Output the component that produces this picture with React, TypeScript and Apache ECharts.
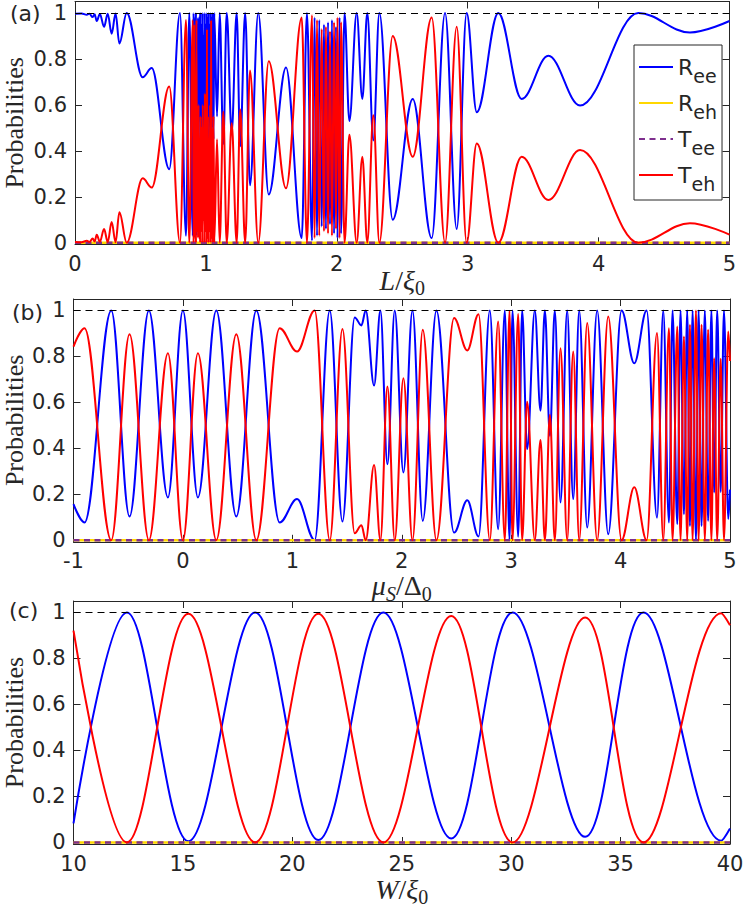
import React, { useEffect, useRef } from "react";
import * as echarts from "echarts";

const BLUE = "#0000ff";
const RED = "#ff0000";
const GOLD = "#ffd700";
const PURPLE = "#7e2f8e";
const INK = "#262626";

// (a) probabilities versus junction length L/ξ0 (turning points of the curves)
const lengthX = [
  0.0, 0.05, 0.09, 0.11, 0.135, 0.15, 0.166, 0.19, 0.222, 0.25, 0.28, 0.31, 0.339, 0.395, 0.517, 0.586, 0.72, 0.802,
  0.848, 0.873, 0.9,
  0.906, 0.911, 0.916, 0.92, 0.924, 0.928, 0.932, 0.936, 0.94, 0.944, 0.948, 0.952, 0.956, 0.96, 0.964, 0.968,
  0.972, 0.976, 0.98, 0.984, 0.988, 0.992, 0.996, 1.0, 1.004, 1.008, 1.012, 1.016, 1.02, 1.024, 1.028, 1.032,
  1.036, 1.04, 1.044, 1.048, 1.052, 1.058, 1.064,
  1.085, 1.105, 1.133, 1.159, 1.197, 1.235, 1.262, 1.3, 1.337, 1.4, 1.48, 1.612, 1.732, 1.772, 1.811, 1.83, 1.849,
  1.866, 1.885, 1.902, 1.917, 1.933, 1.948, 1.963, 1.979, 1.994, 2.005, 2.021, 2.032, 2.059, 2.096, 2.152, 2.195,
  2.233, 2.279, 2.325, 2.427, 2.58, 2.725, 2.827, 2.916, 2.992, 3.069, 3.234, 3.412, 3.616, 3.858, 4.303, 4.698, 5.0,
];
const lengthTeh = [
  0.003, 0.002, 0.008, 0.003, 0.018, 0.005, 0.035, 0.004, 0.06, 0.003, 0.09, 0.002, 0.133, 0.0, 0.28, 0.24, 0.68, 0.0,
  0.97, 0.0, 0.97,
  0.0, 0.95, 0.02, 0.55, 0.0, 0.97, 0.05, 0.5, 0.02, 0.6, 0.02, 0.45, 0.0, 0.55, 0.05, 0.5,
  0.0, 0.6, 0.1, 0.45, 0.0, 0.65, 0.05, 0.5, 0.0, 0.93, 0.02, 0.55, 0.0, 0.45, 0.05, 0.6,
  0.0, 0.97, 0.02, 0.5, 0.0, 0.55, 0.0,
  0.45, 0.0, 0.57, 0.0, 0.52, 0.0, 0.58, 0.0, 0.75, 0.0, 0.79, 0.237, 0.98, 0.0, 0.99, 0.02, 0.97,
  0.03, 0.93, 0.05, 0.94, 0.04, 0.92, 0.03, 0.96, 0.06, 0.98, 0.02, 0.96, 0.0, 0.47, 0.0, 0.374,
  0.0, 0.555, 0.0, 0.9, 0.374, 0.98, 0.0, 0.94, 0.0, 0.432, 0.0, 0.374, 0.186, 0.403, 0.0, 0.085, 0.035,
];
const lengthRee = [
  0.997, 0.998, 0.992, 0.997, 0.982, 0.995, 0.965, 0.996, 0.94, 0.997, 0.91, 0.998, 0.867, 1.0, 0.72, 0.76, 0.32, 1.0,
  0.03, 1.0, 0.03,
  1.0, 0.05, 0.98, 0.45, 1.0, 0.03, 0.95, 0.5, 0.98, 0.4, 0.98, 0.55, 1.0, 0.45, 0.95, 0.5,
  1.0, 0.4, 0.9, 0.55, 1.0, 0.35, 0.95, 0.5, 1.0, 0.07, 0.98, 0.45, 1.0, 0.55, 0.95, 0.4,
  1.0, 0.03, 0.98, 0.5, 1.0, 0.45, 1.0,
  0.55, 1.0, 0.43, 1.0, 0.48, 1.0, 0.42, 1.0, 0.25, 1.0, 0.21, 0.763, 0.02, 1.0, 0.01, 0.98, 0.03,
  0.97, 0.07, 0.95, 0.06, 0.96, 0.08, 0.97, 0.04, 0.94, 0.02, 0.98, 0.04, 1.0, 0.53, 1.0, 0.626,
  1.0, 0.445, 1.0, 0.1, 0.626, 0.02, 1.0, 0.06, 1.0, 0.568, 1.0, 0.626, 0.814, 0.597, 1.0, 0.915, 0.965,
];
const lengthRange = [0, 5];
const lengthReh = [0, 0];
const lengthTee = [0, 0];
const lengthTicks = [0, 1, 2, 3, 4, 5];

// (b) probabilities versus chemical potential μS/Δ0
const muX = [
  -1.0, -0.899, -0.655, -0.488, -0.311, -0.137, 0.0, 0.137, 0.305, 0.488, 0.671, 0.884, 1.043, 1.204, 1.342, 1.458,
  1.57, 1.631, 1.671, 1.747, 1.805, 1.869, 1.936, 2.015, 2.098, 2.192, 2.317, 2.478, 2.599, 2.702, 2.805, 2.881,
  2.942, 2.985, 3.012, 3.064, 3.1, 3.146, 3.216, 3.268, 3.308, 3.354, 3.399, 3.451, 3.512, 3.567, 3.622, 3.695,
  3.786, 3.887, 4.009, 4.125, 4.238, 4.333, 4.39, 4.442, 4.475, 4.518, 4.548, 4.579, 4.609, 4.634, 4.658, 4.689,
  4.713, 4.74, 4.77, 4.8, 4.83, 4.855, 4.883, 4.915, 4.945, 4.984, 5.0,
];
const muTeh = [
  0.843, 0.923, 0.0, 0.897, 0.0, 0.814, 0.0, 0.814, 0.0, 0.897, 0.0, 0.923, 0.821, 1.0, 0.0, 0.919,
  0.03, 0.065, 0.0, 0.327, 0.0, 0.669, 0.0, 0.705, 0.0, 0.916, 0.0, 0.967, 0.826, 0.984, 0.0, 0.952,
  0.0, 0.998, 0.0, 0.985, 0.0, 0.603, 0.0, 0.436, 0.0, 0.545, 0.0, 0.836, 0.0, 0.821, 0.0, 0.945,
  0.0, 0.974, 0.0, 0.23, 0.0, 0.902, 0.0, 0.923, 0.0, 0.93, 0.0, 0.887, 0.0, 0.938, 0.0, 1.0,
  0.0, 0.938, 0.0, 0.916, 0.0, 0.792, 0.0, 0.79, 0.0, 0.908, 0.78,
];
const muRee = [
  0.157, 0.077, 1.0, 0.103, 1.0, 0.186, 1.0, 0.186, 1.0, 0.103, 1.0, 0.077, 0.179, 0.0, 1.0, 0.081,
  0.97, 0.935, 1.0, 0.673, 1.0, 0.331, 1.0, 0.295, 1.0, 0.084, 1.0, 0.033, 0.174, 0.016, 1.0, 0.048,
  1.0, 0.002, 1.0, 0.015, 1.0, 0.397, 1.0, 0.564, 1.0, 0.455, 1.0, 0.164, 1.0, 0.179, 1.0, 0.055,
  1.0, 0.026, 1.0, 0.77, 1.0, 0.098, 1.0, 0.077, 1.0, 0.07, 1.0, 0.113, 1.0, 0.062, 1.0, 0.0,
  1.0, 0.062, 1.0, 0.084, 1.0, 0.208, 1.0, 0.21, 1.0, 0.092, 0.22,
];
const muRange = [-1, 5];
const muReh = [0, 0];
const muTee = [0, 0];
const muTicks = [-1, 0, 1, 2, 3, 4, 5];

// (c) probabilities versus junction width W/ξ0
const widthX = [10, 12.44, 15.25, 18.3, 21.19, 24.16, 27.26, 30.07, 33.38, 36.05, 39.6, 40];
const widthTeh = [0.921, 0.0, 0.994, 0.0, 0.994, 0.0, 0.985, 0.0, 0.978, 0.0, 0.997, 0.945];
const widthRee = [0.083, 1.0, 0.005, 1.0, 0.01, 1.0, 0.017, 1.0, 0.024, 1.0, 0.007, 0.06];
const widthRange = [10, 40];
const widthReh = [0, 0];
const widthTee = [0, 0];
const widthTicks = [10, 15, 20, 25, 30, 35, 40];

const probTicks = [0, 0.2, 0.4, 0.6, 0.8, 1];
const seriesNames = ["Ree", "Reh", "Tee", "Teh"];

const grids = [
  { left: 75, top: 1.5, width: 654.5, height: 242.8, outerBoundsMode: "none", containLabel: false },
  { left: 73.5, top: 299, width: 656.5, height: 242.8, outerBoundsMode: "none", containLabel: false },
  { left: 73.5, top: 601, width: 656.5, height: 243, outerBoundsMode: "none", containLabel: false },
];

// axis titles: symbols sit at the top of a taller line, subscripts hang at its bottom
const mathRich = {
  i: { fontFamily: "Liberation Serif", fontStyle: "italic", fontSize: 28, lineHeight: 32, verticalAlign: "top", color: INK },
  n: { fontFamily: "Liberation Serif", fontSize: 28, lineHeight: 32, verticalAlign: "top", color: INK },
  s: { fontFamily: "Liberation Serif", fontSize: 20, verticalAlign: "bottom", color: INK },
  si: { fontFamily: "Liberation Serif", fontStyle: "italic", fontSize: 20, verticalAlign: "bottom", color: INK },
};

const frameLine = { show: true, onZero: false, lineStyle: { color: INK, width: 1 } };

function xAxes(i: number, range: number[], ticks: number[], name: string, nameGap: number) {
  const common = {
    type: "value",
    gridIndex: i,
    min: range[0],
    max: range[1],
    axisLine: frameLine,
    splitLine: { show: false },
    axisTick: { show: true, inside: true, length: 7, customValues: ticks, lineStyle: { color: INK } },
  };
  return [
    {
      ...common,
      position: "bottom",
      axisLabel: {
        show: true,
        customValues: ticks,
        margin: 9,
        color: INK,
        fontSize: 21,
        lineHeight: 21,
        fontFamily: "DejaVu Sans",
        formatter: (v: number) => String(v),
      },
      name,
      nameLocation: "middle",
      nameGap,
      nameMoveOverlap: false,
      nameTextStyle: { rich: mathRich },
    },
    { ...common, position: "top", axisLabel: { show: false } },
  ];
}

function yAxes(i: number, nameGap: number) {
  const common = {
    type: "value",
    gridIndex: i,
    min: -0.007,
    max: 1.05,
    axisLine: frameLine,
    splitLine: { show: false },
    axisTick: { show: true, inside: true, length: 7, customValues: probTicks, lineStyle: { color: INK } },
  };
  return [
    {
      ...common,
      position: "left",
      axisLabel: {
        show: true,
        customValues: probTicks,
        margin: 8,
        color: INK,
        fontSize: 21,
        fontFamily: "DejaVu Sans",
        formatter: (v: number) => String(Number(v.toFixed(1))),
      },
      name: "Probabilities",
      nameLocation: "middle",
      nameRotate: 90,
      nameGap,
      nameMoveOverlap: false,
      nameTextStyle: { fontFamily: "Liberation Serif", fontSize: 26, color: INK },
    },
    { ...common, position: "right", axisLabel: { show: false } },
  ];
}

function pairs(xs: number[], ys: number[]) {
  return xs.map((x, k) => [x, ys[k]]);
}

function panelSeries(
  i: number,
  xs: number[],
  ree: number[],
  teh: number[],
  range: number[],
  reh: number[],
  tee: number[],
  monotone: boolean
) {
  const base = {
    type: "line",
    xAxisIndex: 2 * i,
    yAxisIndex: 2 * i,
    symbol: "none",
    showSymbol: false,
    silent: true,
    animation: false,
  };
  const curve = monotone ? { smooth: 0.364, smoothMonotone: "x" } : { smooth: 0.364 };
  return [
    { ...base, ...curve, name: "Ree", data: pairs(xs, ree), lineStyle: { color: BLUE, width: 2 }, itemStyle: { color: BLUE } },
    { ...base, name: "Reh", data: pairs(range, reh), lineStyle: { color: GOLD, width: 2.5 }, itemStyle: { color: GOLD } },
    {
      ...base,
      name: "Tee",
      data: pairs(range, tee),
      lineStyle: { color: PURPLE, width: 2.5, type: [6, 4.5] },
      itemStyle: { color: PURPLE },
    },
    {
      ...base,
      ...curve,
      name: "Teh",
      data: pairs(xs, teh),
      lineStyle: { color: RED, width: 2 },
      itemStyle: { color: RED },
      markLine: {
        silent: true,
        symbol: "none",
        animation: false,
        label: { show: false },
        lineStyle: { color: "#000", width: 1, type: [7, 5] },
        data: [{ yAxis: 1 }],
      },
    },
  ];
}

export default function App() {
  const ref = useRef<HTMLDivElement>(null);

  useEffect(() => {
    if (!ref.current) return;
    const chart = echarts.init(ref.current, undefined, { renderer: "svg" });
    chart.setOption({
      animation: false,
      backgroundColor: "#fff",
      grid: grids,
      xAxis: [
        ...xAxes(0, lengthRange, lengthTicks, "{i|L}{n|/}{i|ξ}{s|0}", 22),
        ...xAxes(1, muRange, muTicks, "{i|μ}{si|S}{n|/}{n|Δ}{s|0}", 30),
        ...xAxes(2, widthRange, widthTicks, "{i|W}{n|/}{i|ξ}{s|0}", 31),
      ],
      yAxis: [...yAxes(0, 47.5), ...yAxes(1, 46), ...yAxes(2, 46)],
      legend: {
        data: seriesNames,
        left: 634,
        top: 45,
        orient: "vertical",
        itemWidth: 34,
        itemHeight: 14,
        itemGap: 7,
        padding: [11, 5, 7, 4],
        borderColor: INK,
        borderWidth: 1,
        borderRadius: 0,
        backgroundColor: "#fff",
        selectedMode: false,
        itemStyle: { opacity: 0 },
        formatter: (n: string) => `{b|${n[0]}}{s|${n.slice(1)}}`,
        textStyle: {
          color: INK,
          fontFamily: "DejaVu Sans",
          rich: {
            b: { fontFamily: "DejaVu Sans", fontSize: 22, lineHeight: 36, color: INK },
            s: { fontFamily: "DejaVu Sans", fontSize: 19, lineHeight: 16, verticalAlign: "bottom", color: INK },
          },
        },
      },
      graphic: [
        { type: "text", x: 10, y: 13.5, style: { text: "(a)", fontSize: 22, fontFamily: "DejaVu Sans", fill: INK, verticalAlign: "middle" } },
        { type: "text", x: 12, y: 312.5, style: { text: "(b)", fontSize: 22, fontFamily: "DejaVu Sans", fill: INK, verticalAlign: "middle" } },
        { type: "text", x: 9, y: 610, style: { text: "(c)", fontSize: 22, fontFamily: "DejaVu Sans", fill: INK, verticalAlign: "middle" } },
      ],
      series: [
        ...panelSeries(0, lengthX, lengthRee, lengthTeh, lengthRange, lengthReh, lengthTee, true),
        ...panelSeries(1, muX, muRee, muTeh, muRange, muReh, muTee, true),
        ...panelSeries(2, widthX, widthRee, widthTeh, widthRange, widthReh, widthTee, false),
      ],
    });
    return () => chart.dispose();
  }, []);

  return (
    <div
      ref={ref}
      style={{ position: "absolute", left: 0, top: 0, width: 749, height: 907, background: "#fff" }}
    />
  );
}
